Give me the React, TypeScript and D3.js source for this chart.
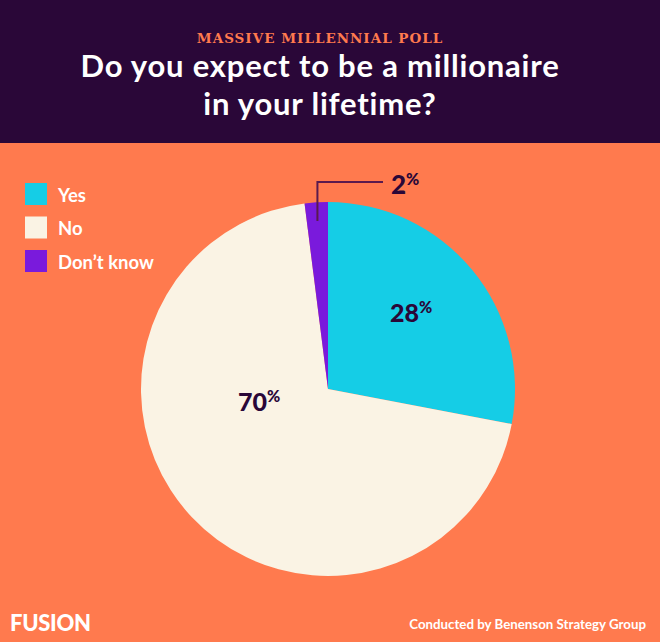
import React from "react";
import * as d3 from "d3";

const categories = ["Yes", "No", "Don’t know"];
const values = [28, 70, 2];
const colors = ["#15CDE6", "#FAF3E4", "#7A1ADC"];
const labels = ["28", "70", "2"];
const titleLines = ["Do you expect to be a millionaire", "in your lifetime?"];

const W = 660, H = 642;
const cx = 328, cy = 389, R = 187;
const DARK = "#2A0738";
const ORANGE = "#FF7A4E";
const FONT = "Lato, 'Open Sans', sans-serif";

export default function App() {
  const pie = d3.pie<number>().sort(null).value((d) => d)(values);
  const arc = d3.arc<d3.PieArcDatum<number>>().innerRadius(0).outerRadius(R);
  const dk = pie[2];
  const dkMid = (dk.startAngle + dk.endAngle) / 2;
  const lx = cx + Math.sin(dkMid) * R * 0.9;
  const ly = cy - Math.cos(dkMid) * R * 0.9;
  const labelPos = [
    [cx + 62, cy - 67],
    [cx - 90, cy + 22],
  ];
  return (
    <svg width={W} height={H} style={{ position: "absolute", left: 0, top: 0 }}>
      <rect x={0} y={0} width={W} height={H} fill={ORANGE} />
      <rect x={0} y={0} width={W} height={143} fill={DARK} />
      <text x={320} y={43} textAnchor="middle" fill={ORANGE} fontFamily="'DejaVu Serif', serif" fontWeight={700} fontSize={13.5} letterSpacing={1}>MASSIVE MILLENNIAL POLL</text>
      {titleLines.map((t, i) => (
        <text key={i} x={320} y={77 + i * 37.5} textAnchor="middle" fill="#FFFFFF" fontFamily={FONT} fontWeight={700} fontSize={31} letterSpacing={0.8}>{t}</text>
      ))}

      <g transform={`translate(${cx},${cy})`}>
        {pie.map((p, i) => (
          <path key={i} d={arc(p) || ""} fill={colors[i]} />
        ))}
      </g>
      {[0, 1].map((i) => (
        <text key={i} x={labelPos[i][0]} y={labelPos[i][1]} fill={DARK} fontFamily={FONT} fontWeight={900} fontSize={25}>
          {labels[i]}
          <tspan fontSize={16} dy={-9}>%</tspan>
        </text>
      ))}
      <polyline points={`${lx},${ly} ${lx},${182} ${383},${182}`} fill="none" stroke="#5A1A4E" strokeWidth={2} />
      <text x={391} y={194} fill={DARK} fontFamily={FONT} fontWeight={900} fontSize={26}>
        {labels[2]}
        <tspan fontSize={16} dy={-9}>%</tspan>
      </text>

      {categories.map((c, i) => (
        <g key={c}>
          <rect x={25} y={183 + i * 33.5} width={22} height={22} fill={colors[i]} />
          <text x={58} y={201.5 + i * 33.5} fill="#FFFFFF" fontFamily={FONT} fontWeight={700} fontSize={18.5}>{c}</text>
        </g>
      ))}

      <text x={10} y={631} fill="#FFFFFF" fontFamily={FONT} fontWeight={900} fontSize={22} letterSpacing={-0.3}>FUSION</text>
      <text x={646} y={629} textAnchor="end" fill="#FFFFFF" fontFamily={FONT} fontWeight={700} fontSize={13.3}>Conducted by Benenson Strategy Group</text>
    </svg>
  );
}
